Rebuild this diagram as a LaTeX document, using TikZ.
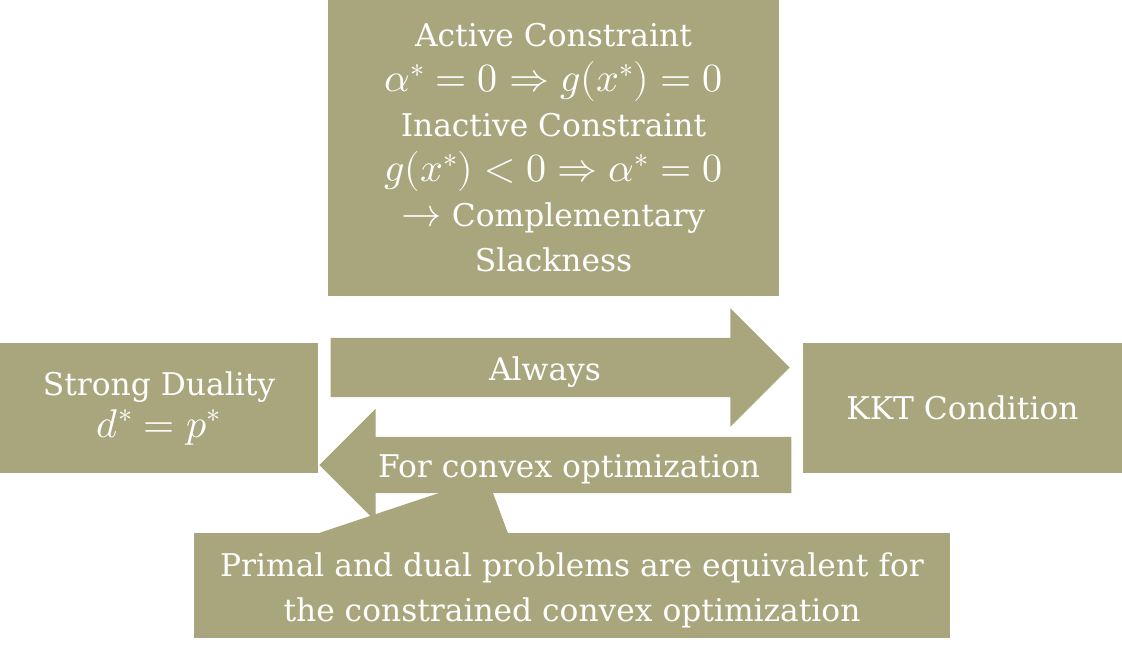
\documentclass[tikz,border=0pt]{standalone}
\usepackage{amsmath}
\usepackage{unicode-math}
\setmainfont{DejaVu Serif}
\setmathfont{Latin Modern Math}[Scale=1.28]
\usepackage{xcolor}
\usepackage{tikz}
\usetikzlibrary{shapes.arrows,calc}
\definecolor{boxfill}{RGB}{169,165,124}

\begin{document}
\begin{tikzpicture}[x=1pt,y=-1pt,
  box/.style={fill=boxfill, text=white, align=center, inner sep=0pt, font=\fontsize{31.3}{45}\selectfont},
  bigarrow/.style={single arrow, fill=boxfill, inner xsep=0pt, single arrow tip angle=90, anchor=tip},
  lbl/.style={text=white, inner sep=0pt, anchor=base, font=\fontsize{31.3}{45}\selectfont}]
\useasboundingbox (0,0) rectangle (1122,653);
\node[box, minimum width=451pt, minimum height=296pt] (slack) at (553.5,148) {Active Constraint\\ $\alpha^*=0\Rightarrow g(x^*)=0$\\ Inactive Constraint\\ $g(x^*)<0\Rightarrow \alpha^*=0$\\ $\rightarrow$ Complementary\\ Slackness};
\node[box, minimum width=318pt, minimum height=130pt, font=\fontsize{31.3}{42}\selectfont] (duality) at (159,408) {Strong Duality\\ $d^*=p^*$};
\node[box, minimum width=319pt, minimum height=130pt] (kkt) at (962.5,408) {KKT Condition};
\node[box, minimum width=756pt, minimum height=105pt, text height=79pt] (note) at (572,585.5) {Primal and dual problems are equivalent for\\ the constrained convex optimization};
\coordinate (notetip) at (487,477);
\fill[boxfill] ($(note.north west)+(126,0)$) -- (notetip) -- ($(note.north west)+(314,0)$) -- cycle;
\node[bigarrow, minimum height=459pt, inner ysep=29.5pt, single arrow head extend=29.5pt] (always) at ($(kkt.west)+(-13,-40.5)$) {};
\node[bigarrow, shape border rotate=180, minimum height=472pt, inner ysep=28pt, single arrow head extend=28pt] (convex) at ($(duality.east)+(1,57)$) {};
\node[lbl] (alwaystext) at (545,380) {Always};
\node[lbl] (convextext) at (569,477) {For convex optimization};
\end{tikzpicture}
\end{document}
